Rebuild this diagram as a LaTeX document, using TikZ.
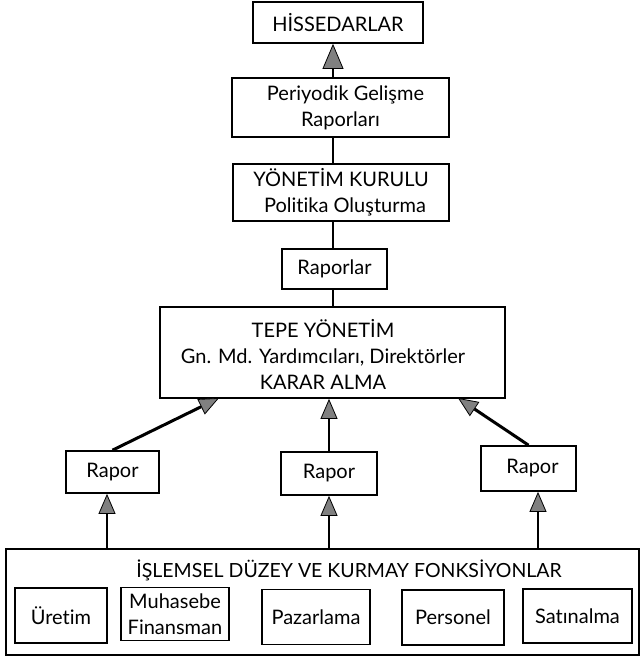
\documentclass[tikz,border=0pt]{standalone}
\usepackage{fontspec}
\setmainfont{Lato}[Ligatures={NoCommon,NoRare,NoContextual}]
\usetikzlibrary{arrows.meta}
\begin{document}
\begin{tikzpicture}[x=1pt,y=-1pt,
  txt/.style={font=\fontsize{20}{26}\selectfont},
  box/.style={draw,line width=1.7pt,inner sep=0pt,align=center,txt},
  link/.style={line width=2pt},
  uparrow/.style={line width=2pt,-{Triangle[length=20pt,width=17pt,fill=black!50,line width=0.8pt]}},
  bigarrow/.style={line width=2pt,-{Triangle[length=25pt,width=21pt,fill=black!50,line width=0.8pt]}},
  slant/.style={uparrow,line width=3pt},
]
\useasboundingbox (0,0) rectangle (641,663);

% upper chain
\node[box,minimum width=170pt,minimum height=41pt] (hiss) at (338,22.5) {HİSSEDARLAR};
\node[box,minimum width=217pt,minimum height=59pt] (peri) at (340.5,107.5) {\hspace*{10pt}Periyodik Gelişme\\Raporları};
\node[box,minimum width=216pt,minimum height=57pt] (yon) at (341,192.5) {YÖNETİM KURULU\\\hspace*{8pt}Politika Oluşturma};
\node[box,minimum width=105pt,minimum height=40pt] (rapl) at (334.5,269) {Raporlar};
\node[box,minimum width=345pt,minimum height=91pt] (tepe) at (332.5,352.5) {};
\node[txt,align=center,inner sep=0pt] (tepet) at (323,354) {TEPE YÖNETİM\\Gn. Md. Yardımcıları, Direktörler\\KARAR ALMA};

% report boxes
\node[box,minimum width=93pt,minimum height=42pt] (rL) at (112.5,472) {Rapor};
\node[box,minimum width=96pt,minimum height=43pt] (rM) at (329,473.5) {Rapor};
\node[box,minimum width=95pt,minimum height=45pt] (rR) at (528.5,468.5) {\hspace*{8pt}Rapor};

% operational level
\node[box,minimum width=633pt,minimum height=106pt] (ops) at (322.5,602) {};
\node[inner sep=0pt,font=\fontsize{19.5}{26}\selectfont] (opst) at (349,570) {İŞLEMSEL DÜZEY VE KURMAY FONKSİYONLAR};
\node[box,minimum width=92pt,minimum height=55pt] (f1) at (61,615.5) {Üretim};
\node[box,minimum width=108pt,minimum height=53pt] (f2) at (175,614) {Muhasebe\\Finansman};
\node[box,minimum width=108pt,minimum height=55pt] (f3) at (316,617) {Pazarlama};
\node[box,minimum width=102pt,minimum height=55pt] (f4) at (453,617.5) {Personel};
\node[box,minimum width=109pt,minimum height=54pt] (f5) at (577.5,616) {Satınalma};

% connector columns
\coordinate (ax) at (333,0);
\coordinate (cL) at (107,0);
\coordinate (cM) at (329,0);
\coordinate (cR) at (538,0);
\coordinate (tipL) at (219,398);
\coordinate (tipR) at (458,398);

\draw[bigarrow] (peri.north -| ax) -- (hiss.south -| ax);
\draw[link] (peri.south -| ax) -- (yon.north -| ax);
\draw[link] (yon.south -| ax) -- (rapl.north -| ax);
\draw[link] (rapl.south -| ax) -- (tepe.north -| ax);

\draw[slant] (rL.north) -- (tipL);
\draw[uparrow] (rM.north -| cM) -- (tepe.south -| cM);
\draw[slant] (rR.north) -- (tipR);

\draw[uparrow] (ops.north -| cL) -- (rL.south -| cL);
\draw[uparrow] (ops.north -| cM) -- (rM.south -| cM);
\draw[uparrow] (ops.north -| cR) -- (rR.south -| cR);
\end{tikzpicture}
\end{document}
